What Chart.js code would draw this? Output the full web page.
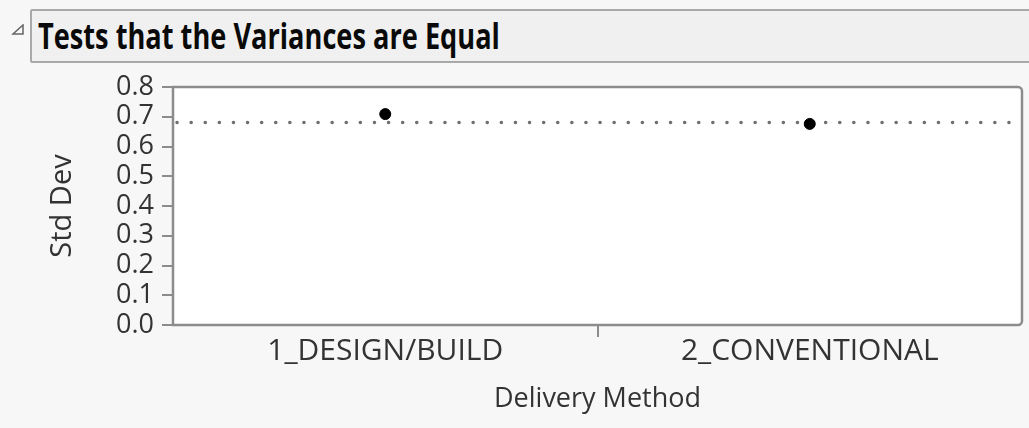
<!DOCTYPE html>
<html>
<head>
<meta charset="utf-8">
<script src="https://cdn.jsdelivr.net/npm/chart.js@4/dist/chart.umd.min.js"></script>
<style>
  html, body { margin: 0; padding: 0; background: #f7f7f7; }
  #wrap { position: relative; width: 1029px; height: 428px; overflow: hidden; }
  #head {
    position: absolute; left: 30px; top: 9px; width: 1020px; height: 50px;
    background: #f0f0f0; border: 2px solid #a9a9a9; border-radius: 2px;
  }
  #head span {
    position: absolute; left: 6px; top: 0; line-height: 50px; white-space: nowrap;
    font: bold 36px "Open Sans", sans-serif; color: #0a0a0a;
    transform: scaleX(0.755); transform-origin: 0 50%;
  }
  #tri { position: absolute; left: 11px; top: 24px; }
  canvas { position: absolute; left: 0; top: 0; }
</style>
</head>
<body>
<div id="wrap">
  <svg id="tri" width="14" height="12"><polygon points="12,1 12,10 2,10" fill="none" stroke="#666" stroke-width="1.5"/></svg>
  <div id="head"><span>Tests that the Variances are Equal</span></div>
  <canvas id="chart" width="1029" height="428"></canvas>
</div>
<script>
const methods = ['1_DESIGN/BUILD', '2_CONVENTIONAL'];
const stdDevs = [0.709, 0.676];
const pooledStdDev = 0.681;
const yTicks = [0.0, 0.1, 0.2, 0.3, 0.4, 0.5, 0.6, 0.7, 0.8];

const font = 'Open Sans';
const ink = '#333';
const axisGray = '#8c8c8c';

// white plot frame plus the dotted pooled std dev line
const frame = {
  id: 'frame',
  beforeDraw(chart) {
    const { ctx, chartArea: a } = chart;
    ctx.save();
    ctx.fillStyle = '#ffffff';
    ctx.fillRect(a.left, a.top, a.right - a.left, a.bottom - a.top);
    ctx.restore();
  },
  beforeDatasetsDraw(chart) {
    const { ctx, chartArea: a, scales } = chart;
    ctx.save();
    const y = scales.y.getPixelForValue(pooledStdDev);
    ctx.strokeStyle = '#6f6f6f';
    ctx.lineWidth = 3.5;
    ctx.lineCap = 'round';
    ctx.setLineDash([0.1, 14]);
    ctx.beginPath();
    ctx.moveTo(a.left + 4, y);
    ctx.lineTo(a.right, y);
    ctx.stroke();
    ctx.restore();
  },
  afterDraw(chart) {
    const { ctx, chartArea: a } = chart;
    ctx.save();
    ctx.strokeStyle = axisGray;
    ctx.lineWidth = 2.5;
    ctx.beginPath();
    ctx.roundRect(a.left, a.top, a.right - a.left, a.bottom - a.top, [0, 4, 4, 0]);
    ctx.stroke();
    ctx.restore();
  }
};

new Chart(document.getElementById('chart'), {
  type: 'line',
  data: {
    labels: methods,
    datasets: [{
      data: stdDevs,
      showLine: false,
      pointRadius: 5.5,
      pointBackgroundColor: '#000',
      pointBorderColor: '#000'
    }]
  },
  options: {
    responsive: false,
    animation: false,
    layout: { padding: { top: 87, right: 7, bottom: 0, left: 0 } },
    plugins: { legend: { display: false }, tooltip: { enabled: false } },
    scales: {
      x: {
        offset: true,
        // only the divider between the two groups gets a tick mark
        grid: {
          offset: true, drawOnChartArea: false, tickLength: 12, lineWidth: 2,
          tickColor: c => (c.index === 1 ? axisGray : 'rgba(0,0,0,0)')
        },
        border: { display: false },
        ticks: { color: ink, font: { family: font, size: 30 }, padding: -4 },
        title: { display: true, text: 'Delivery Method', color: ink, font: { family: font, size: 27 }, padding: { bottom: 12 } },
        afterFit: s => { s.height = 103; }
      },
      y: {
        min: 0, max: 0.8,
        afterBuildTicks: s => { s.ticks = yTicks.map(v => ({ value: v })); },
        grid: { drawOnChartArea: false, tickLength: 11, color: axisGray, lineWidth: 2 },
        border: { display: false },
        ticks: { color: ink, font: { family: font, size: 27 }, padding: 8, autoSkip: false, callback: v => v.toFixed(1) },
        title: { display: true, text: 'Std Dev', color: ink, font: { family: font, size: 29 }, padding: { top: 45 } },
        afterFit: s => { s.width = 173; }
      }
    }
  },
  plugins: [frame]
});
</script>
</body>
</html>
